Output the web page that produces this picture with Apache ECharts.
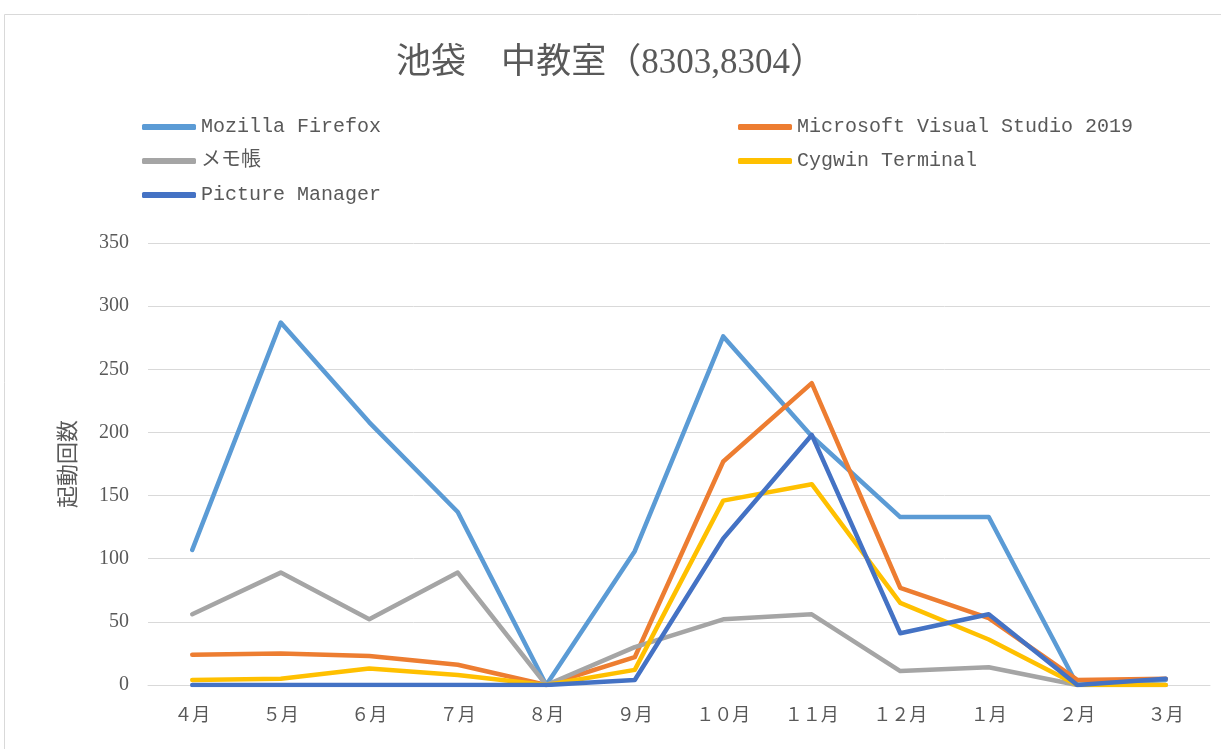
<!DOCTYPE html>
<html>
<head>
<meta charset="utf-8">
<script src="https://cdn.jsdelivr.net/npm/echarts@6/dist/echarts.min.js"></script>
<style>
  html, body { margin: 0; padding: 0; background: #fff; }
  #main { width: 1221px; height: 749px; }
</style>
</head>
<body>
<div id="main"></div>
<script>
// 月ラベル
var months = ['４月', '５月', '６月', '７月', '８月', '９月', '１０月', '１１月', '１２月', '１月', '２月', '３月'];

// 各アプリの起動回数
var firefox = [107, 287, 208, 137, 0, 106, 276, 197, 133, 133, 0, 4];
var vstudio = [24, 25, 23, 16, 0, 22, 177, 239, 77, 53, 4, 5];
var memo = [56, 89, 52, 89, 0, 30, 52, 56, 11, 14, 0, 0];
var cygwin = [4, 5, 13, 8, 0, 12, 146, 159, 65, 36, 0, 0];
var picman = [0, 0, 0, 0, 0, 4, 116, 198, 41, 56, 0, 5];

var textColor = '#595959';
var monoFont = '"Liberation Mono", "Noto Sans CJK JP", monospace';
var serifFont = '"Liberation Serif", "Noto Sans CJK JP", serif';

var myChart = echarts.init(document.getElementById('main'));

function line(name, data, color) {
    return {
        name: name,
        type: 'line',
        data: data,
        symbol: 'none',
        color: color,
        lineStyle: {width: 4.5, color: color, cap: 'round', join: 'round'}
    };
}

var legendCommon = {
    orient: 'vertical',
    padding: 0,
    itemWidth: 54,
    itemHeight: 6,
    itemGap: 14,
    icon: 'roundRect',
    textStyle: {fontFamily: monoFont, fontSize: 20, color: textColor, lineHeight: 20, padding: [0, 0, 0, 0]}
};

var option = {
    animation: false,
    title: {
        text: '池袋　中教室（8303,8304）',
        left: 'center',
        top: 41,
        textStyle: {fontFamily: serifFont, fontSize: 35, fontWeight: 'normal', color: textColor}
    },
    legend: [
        Object.assign({left: 142, top: 117, data: ['Mozilla Firefox', 'メモ帳', 'Picture Manager']}, legendCommon),
        Object.assign({left: 738, top: 117, data: ['Microsoft Visual Studio 2019', 'Cygwin Terminal']}, legendCommon)
    ],
    graphic: [{
        type: 'rect',
        shape: {x: 4.5, y: 14.5, width: 1240, height: 800},
        style: {fill: 'none', stroke: '#d9d9d9', lineWidth: 1},
        silent: true
    }],
    grid: {left: 148, right: 11, top: 243, bottom: 64, containLabel: false},
    xAxis: {
        type: 'category',
        data: months,
        boundaryGap: true,
        axisLine: {show: true, lineStyle: {color: '#d9d9d9', width: 1}},
        axisTick: {show: false},
        axisLabel: {margin: 22, fontFamily: serifFont, fontSize: 18, color: textColor}
    },
    yAxis: {
        type: 'value',
        min: 0,
        max: 350,
        interval: 50,
        name: '起動回数',
        nameLocation: 'middle',
        nameRotate: 90,
        nameGap: 68,
        nameTextStyle: {fontFamily: serifFont, fontSize: 22, color: textColor},
        axisLine: {show: false},
        axisTick: {show: false},
        axisLabel: {margin: 19, fontFamily: serifFont, fontSize: 20, color: textColor},
        splitLine: {lineStyle: {color: '#d9d9d9', width: 1}}
    },
    series: [
        line('Mozilla Firefox', firefox, '#5b9bd5'),
        line('Microsoft Visual Studio 2019', vstudio, '#ed7d31'),
        line('メモ帳', memo, '#a5a5a5'),
        line('Cygwin Terminal', cygwin, '#ffc000'),
        line('Picture Manager', picman, '#4472c4')
    ]
};
myChart.setOption(option);
</script>
</body>
</html>
